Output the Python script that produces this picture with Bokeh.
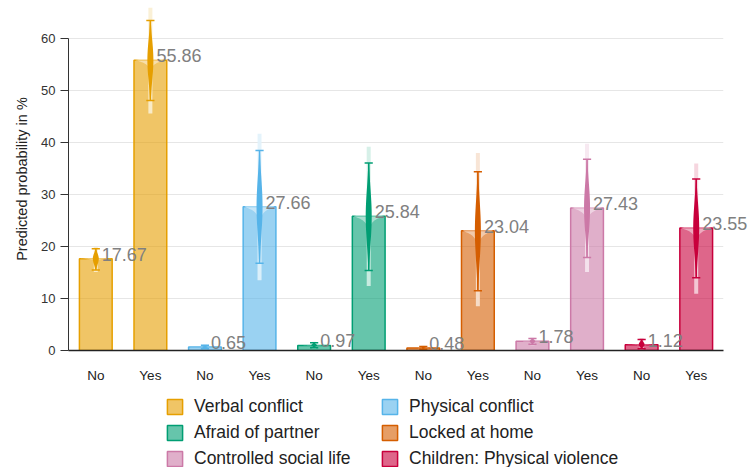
import numpy as np
from bokeh.plotting import figure
from bokeh.layouts import column
from bokeh.models import Range1d, FixedTicker, Legend, LegendItem, ColumnDataSource, Title
from bokeh.core.properties import value
from bokeh.embed import file_html
from bokeh.resources import INLINE

# ---------------- data ----------------
groups = ["Verbal conflict", "Physical conflict", "Afraid of partner",
          "Locked at home", "Controlled social life", "Children: Physical violence"]
answers = ["No", "Yes"]
est_no = [17.67, 0.65, 0.97, 0.48, 1.78, 1.12]
est_yes = [55.86, 27.66, 25.84, 23.04, 27.43, 23.55]
lo_no = [15.5, 0.35, 0.55, 0.25, 1.2, 0.35]
hi_no = [19.6, 1.0, 1.5, 0.75, 2.3, 2.1]
lo_yes = [48.1, 16.8, 15.4, 11.5, 17.9, 14.0]
hi_yes = [63.5, 38.5, 36.1, 34.4, 36.8, 33.0]
ext_lo_no = [15.1, 0.25, 0.4, 0.15, 1.0, 0.2]
ext_hi_no = [19.9, 1.15, 1.7, 0.9, 2.5, 2.4]
ext_lo_yes = [45.6, 13.5, 12.4, 8.5, 15.1, 10.9]
ext_hi_yes = [66.0, 41.7, 39.2, 38.0, 39.8, 36.0]
y_ticks = [0, 10, 20, 30, 40, 50, 60]

colors = ["#E69F00", "#56B4E9", "#009E73", "#D55E00", "#CC79A7", "#C8003C"]
FONT = "Liberation Sans"


def tint(hx, f):
    r, g, b = int(hx[1:3], 16), int(hx[3:5], 16), int(hx[5:7], 16)
    r, g, b = [int(round(c + (255 - c) * f)) for c in (r, g, b)]
    return "#%02x%02x%02x" % (r, g, b)


p = figure(width=750, height=385, x_range=Range1d(0, 12), y_range=Range1d(0, 66),
           output_backend="svg", toolbar_location=None,
           min_border_left=68, min_border_right=27, min_border_top=7, min_border_bottom=35)
p.outline_line_color = None
p.background_fill_color = "white"
p.border_fill_color = "white"

# axes
p.xaxis.ticker = FixedTicker(ticks=[i + 0.5 for i in range(12)])
p.xaxis.major_label_overrides = {i + 0.5: answers[i % 2] for i in range(12)}
p.xaxis.major_tick_line_color = None
p.xaxis.major_tick_out = 0
p.xaxis.major_tick_in = 0
p.xaxis.minor_tick_line_color = None
p.xaxis.axis_line_color = "#222222"
p.xaxis.axis_line_width = 1.5
p.xaxis.major_label_standoff = 17
p.xaxis.major_label_text_font = FONT
p.xaxis.major_label_text_font_size = "13.5px"
p.xaxis.major_label_text_color = "#222222"

p.yaxis.ticker = FixedTicker(ticks=y_ticks)
p.yaxis.bounds = (0, 60)
p.yaxis.axis_line_color = "#333333"
p.yaxis.major_tick_line_color = "#333333"
p.yaxis.major_tick_out = 8
p.yaxis.major_tick_in = 0
p.yaxis.minor_tick_line_color = None
p.yaxis.major_label_standoff = 5
p.yaxis.major_label_text_font = FONT
p.yaxis.major_label_text_font_size = "13px"
p.yaxis.major_label_text_color = "#333333"

ylab = Title(text="Predicted probability in %", align="center", offset=33, standoff=17,
             text_font=FONT, text_font_size="14.5px", text_font_style="normal",
             text_color="#222222")
p.add_layout(ylab, "left")

p.xgrid.grid_line_color = None
p.ygrid.ticker = FixedTicker(ticks=y_ticks)
p.ygrid.grid_line_color = "#e6e6e6"
p.ygrid.grid_line_width = 1

# legend figure
pl = figure(width=750, height=82, x_range=Range1d(0, 1), y_range=Range1d(0, 1),
            output_backend="svg", toolbar_location=None, min_border=0)
pl.axis.visible = False
pl.grid.visible = False
pl.outline_line_color = None

legend_items = []
tx, ty, tt = [], [], []
for g in range(6):
    xs = [2 * g + 0.5, 2 * g + 1.5]
    ests = [est_no[g], est_yes[g]]
    los = [lo_no[g], lo_yes[g]]
    his = [hi_no[g], hi_yes[g]]
    elo = [ext_lo_no[g], ext_lo_yes[g]]
    ehi = [ext_hi_no[g], ext_hi_yes[g]]
    c = colors[g]
    p.vbar(x=xs, top=ests, width=0.6, bottom=0, fill_color=c, fill_alpha=0.6,
           line_color=c, line_width=1.5)
    lr = pl.vbar(x=[0.5], top=[0.6], bottom=[0.4], width=0.1, fill_color=c, fill_alpha=0.6,
                 line_color=c, line_width=1.5, visible=False)
    legend_items.append(LegendItem(label=groups[g], renderers=[lr]))

    notch_xs, notch_ys, sp_xs, sp_ys = [], [], [], []
    for x, e, lo, hi in zip(xs, ests, los, his):
        s = 0.04 * (hi - lo)
        yy = np.linspace(e - 4 * s, e + 4 * s, 60)
        w = 0.29 * np.exp(-np.abs(yy - e) / s)
        notch_xs.append(list(x - w) + list(x + w[::-1]))
        notch_ys.append(list(yy) + list(yy[::-1]))
        yy = np.linspace(lo, hi, 80)
        sd = np.where(yy >= e, (hi - e) / 1.96, (e - lo) / 1.96)
        w = 0.055 * np.exp(-0.5 * ((yy - e) / sd) ** 2)
        sp_xs.append(list(x - w) + list(x + w[::-1]))
        sp_ys.append(list(yy) + list(yy[::-1]))
    p.patches(xs=notch_xs, ys=notch_ys, fill_color="white", fill_alpha=0.45, line_color=None)
    p.segment(x0=xs, x1=xs, y0=elo, y1=ehi, line_color=tint(c, 0.82), line_width=4, line_alpha=0.9)
    p.patches(xs=sp_xs, ys=sp_ys, fill_color=c, fill_alpha=1, line_color=None)
    p.segment(x0=xs, x1=xs, y0=los, y1=his, line_color=c, line_width=1.5)
    p.segment(x0=[x - 0.075 for x in xs] * 2, x1=[x + 0.075 for x in xs] * 2,
              y0=los + his, y1=los + his, line_color=c, line_width=1.5)
    tx += xs
    ty += ests
    tt += ["%.2f" % v for v in ests]

src = ColumnDataSource(dict(x=tx, y=ty, t=tt))
lab = p.text(x="x", y="y", text="t", source=src, x_offset=6, y_offset=2,
             text_font=value(FONT), text_font_size="18px", text_color="#808080",
             text_align="left", text_baseline="bottom")
lab.level = "annotation"

legend = Legend(items=legend_items, orientation="horizontal", ncols=2,
                location=(97, -2), padding=0, margin=0, spacing=5,
                glyph_width=19, glyph_height=19, label_standoff=10, label_width=181,
                label_height=19, inactive_fill_alpha=0,
                label_text_font=FONT, label_text_font_size="17.5px", label_text_color="#222222",
                border_line_color=None, background_fill_alpha=0)
pl.add_layout(legend, "center")

layout = column(p, pl, spacing=0)
open("out.html", "w").write(file_html(layout, INLINE))
